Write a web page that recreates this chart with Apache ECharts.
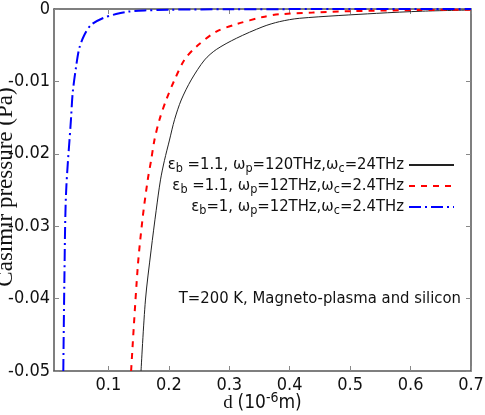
<!DOCTYPE html>
<html><head><meta charset="utf-8">
<script src="https://cdn.jsdelivr.net/npm/echarts@6/dist/echarts.min.js"></script>
<style>html,body{margin:0;padding:0;background:#fff}#c{width:485px;height:415px}</style>
</head><body><div id="c"></div>
<script>
var NARROW = "'Liberation Sans Narrow','DejaVu Sans Condensed',sans-serif";
var SERIF = "'Liberation Serif','DejaVu Serif',serif";

var xTicks = [0.1, 0.2, 0.3, 0.4, 0.5, 0.6, 0.7];
var yTicks = [0, -0.01, -0.02, -0.03, -0.04, -0.05];

var dBlack = [0.154, 0.1613, 0.1707, 0.1791, 0.1862, 0.1928, 0.2011, 0.2094, 0.2205, 0.237, 0.2591, 0.2785, 0.3117, 0.3558, 0.383, 0.4166, 0.5437, 0.62, 0.698];
var pBlack = [-0.05, -0.0402, -0.0333, -0.0278, -0.0236, -0.0209, -0.0181, -0.0153, -0.01257, -0.0098, -0.00704, -0.0056, -0.00405, -0.00244, -0.00175, -0.00128, -0.0006, -0.0003, -0.00014];

var dRed = [0.1376, 0.1486, 0.1569, 0.1651, 0.1707, 0.1762, 0.1845, 0.1956, 0.2094, 0.226, 0.2454, 0.2785, 0.3117, 0.3558, 0.383, 0.438, 0.5, 0.615, 0.7];
var pRed = [-0.05, -0.0356, -0.0287, -0.0236, -0.0209, -0.0181, -0.0153, -0.01257, -0.0098, -0.0070, -0.0052, -0.00313, -0.0021, -0.0011, -0.00073, -0.0005, -0.0003, -0.00014, -0.0001];

var dBlue = [0.0254, 0.0271, 0.0299, 0.0382, 0.0409, 0.0465, 0.0519, 0.0602, 0.0713, 0.0906, 0.1128, 0.132, 0.16, 0.2, 0.3, 0.45, 0.7];
var pBlue = [-0.05, -0.0379, -0.0255, -0.0151, -0.0116, -0.0080, -0.0054, -0.0036, -0.0022, -0.00128, -0.0007, -0.00037, -0.0002, -0.0001, -0.00004, -0.00001, 0];

var legendTexts = {
  s1: '{a|ε}{s|b}{a| =1.1, ω}{s|p}{a|=120THz,ω}{s|c}{a|=24THz}',
  s2: '{a|ε}{s|b}{a| =1.1, ω}{s|p}{a|=12THz,ω}{s|c}{a|=2.4THz}',
  s3: '{a|ε}{s|b}{a|=1, ω}{s|p}{a|=12THz,ω}{s|c}{a|=2.4THz}'
};

function zip(xs, ys) { return xs.map(function (x, i) { return [x, ys[i]]; }); }

var chart = echarts.init(document.getElementById('c'), null, {renderer: 'canvas'});

var axisLineStyle = {color: '#555', width: 1.5};
var tickStyle = {show: true, inside: true, length: 5, lineStyle: {color: '#888', width: 1}};

function legendFor(name, top) {
  return {
    data: [name], right: 30, top: top, padding: 0, orient: 'vertical', align: 'right',
    itemWidth: 45, itemHeight: 14, selectedMode: false,
    itemStyle: {color: 'rgba(0,0,0,0)', borderWidth: 0, opacity: 0},
    formatter: function (n) { return legendTexts[n]; },
    textStyle: {
      color: '#111',
      rich: {
        a: {fontFamily: NARROW, fontSize: 16.5, color: '#111', lineHeight: 20},
        s: {fontFamily: NARROW, fontSize: 12.5, color: '#111', verticalAlign: 'bottom', padding: [8, 0, 0, 0], lineHeight: 20}
      }
    }
  };
}

chart.setOption({
  animation: false,
  grid: {left: 54, right: 14, top: 9, bottom: 44, containLabel: false, outerBoundsMode: 'none'},
  xAxis: [{
    type: 'value', min: 0.01, max: 0.7, position: 'bottom',
    axisLine: {show: true, onZero: false, lineStyle: axisLineStyle},
    axisTick: Object.assign({customValues: xTicks}, tickStyle),
    axisLabel: {customValues: xTicks, fontFamily: NARROW, fontSize: 18, color: '#111', margin: 5,
      formatter: function (v) { return String(+v.toFixed(2)); }},
    splitLine: {show: false},
    name: '{r|d }{n|(10}{sup|-6}{n|m)}', nameLocation: 'middle', nameGap: 20, nameMoveOverlap: false,
    nameTextStyle: {
      rich: {
        r: {fontFamily: SERIF, fontSize: 19, color: '#111', verticalAlign: 'bottom', lineHeight: 22},
        n: {fontFamily: NARROW, fontSize: 19, color: '#111', verticalAlign: 'bottom', lineHeight: 22},
        sup: {fontFamily: NARROW, fontSize: 14, color: '#111', verticalAlign: 'top', padding: [0, 0, 8, 0], lineHeight: 22}
      }
    }
  }, {
    type: 'value', min: 0.01, max: 0.7, position: 'top',
    axisLine: {show: true, onZero: false, lineStyle: axisLineStyle},
    axisTick: Object.assign({customValues: xTicks}, tickStyle),
    axisLabel: {show: false}, splitLine: {show: false}
  }],
  yAxis: [{
    type: 'value', min: -0.05, max: 0, interval: 0.01, position: 'left',
    axisLine: {show: true, onZero: false, lineStyle: axisLineStyle},
    axisTick: tickStyle,
    axisLabel: {fontFamily: NARROW, fontSize: 18, color: '#111', margin: 4,
      formatter: function (v) { return v === 0 ? '0' : String(+v.toFixed(2)); }},
    splitLine: {show: false},
    name: 'Casimir pressure (Pa)', nameLocation: 'middle', nameGap: 37, nameRotate: 90, nameMoveOverlap: false,
    nameTextStyle: {fontFamily: SERIF, fontSize: 23, color: '#111', padding: [0, 0, 0, 6]}
  }, {
    type: 'value', min: -0.05, max: 0, interval: 0.01, position: 'right',
    axisLine: {show: true, onZero: false, lineStyle: axisLineStyle},
    axisTick: tickStyle, axisLabel: {show: false}, splitLine: {show: false}
  }],
  legend: [legendFor('s1', 154), legendFor('s2', 175), legendFor('s3', 196)],
  series: [{
    name: 's1', type: 'line', data: zip(dBlack, pBlack), showSymbol: false, symbol: 'none',
    smooth: 0.3, clip: true,
    lineStyle: {color: '#222', width: 1}, itemStyle: {color: '#222'}
  }, {
    name: 's2', type: 'line', data: zip(dRed, pRed), showSymbol: false, symbol: 'none',
    smooth: 0.3, clip: true,
    lineStyle: {color: '#ff0000', width: 2, type: [6, 6]}, itemStyle: {color: '#ff0000'}
  }, {
    name: 's3', type: 'line', data: zip(dBlue, pBlue), showSymbol: false, symbol: 'none',
    smooth: 0.3, clip: true,
    lineStyle: {color: '#0000ff', width: 2, type: [12, 4, 2, 4]}, itemStyle: {color: '#0000ff'}
  }],
  graphic: [{
    type: 'text', right: 24, top: 290,
    style: {text: 'T=200 K, Magneto-plasma and silicon', fontFamily: NARROW, fontSize: 16.5, fill: '#111'}
  }]
});
</script>
</body></html>
